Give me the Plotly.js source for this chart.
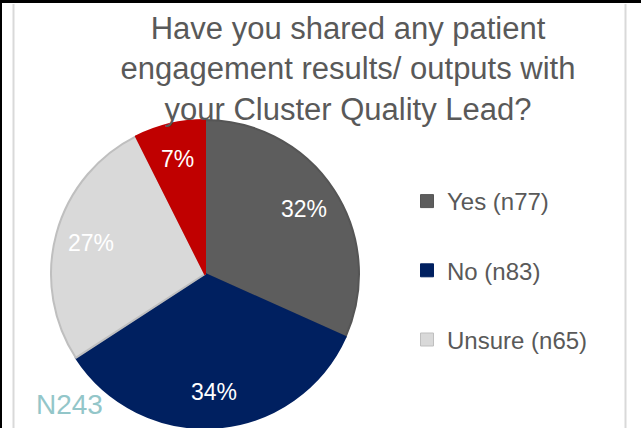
<!DOCTYPE html>
<html>
<head>
<meta charset="utf-8">
<script src="https://cdn.plot.ly/plotly-3.0.1.min.js"></script>
<style>html,body{margin:0;padding:0;background:#fff;}#chart{width:641px;height:428px;}</style>
</head>
<body>
<div id="chart"></div>
<script>
// Data
const categories = ['Yes (n77)', 'No (n83)', 'Unsure (n65)', 'Other (n18)'];
const counts = [77, 83, 65, 18];
const sliceColors = ['#5d5d5d', '#002060', '#d9d9d9', '#c00000'];
const edgeColors = ['#555555', '#002060', '#bfbfbf', '#c00000'];
const legendCategories = ['Yes (n77)', 'No (n83)', 'Unsure (n65)'];
const totalLabel = 'N243';
const titleText = 'Have you shared any patient<br>engagement results/ outputs with<br>your Cluster Quality Lead?';

const W = 641, H = 428;
const font = 'Liberation Sans, Arial, sans-serif';

// pie geometry (pixels)
const pieCx = 205, pieCy = 274, pieR = 154;
const labelFrac = 0.77;

const traces = [{
  type: 'pie',
  labels: categories,
  values: counts,
  sort: false,
  direction: 'clockwise',
  rotation: 0,
  marker: {colors: sliceColors, line: {color: edgeColors, width: 2}},
  textinfo: 'none',
  hoverinfo: 'none',
  showlegend: false,
  domain: {x: [(pieCx - pieR) / W, (pieCx + pieR) / W], y: [(H - pieCy - pieR) / H, (H - pieCy + pieR) / H]}
}];

legendCategories.forEach(function (name, i) {
  traces.push({
    type: 'scatter',
    mode: 'markers',
    x: [null], y: [null],
    name: name,
    legendgroup: 'g' + i,
    marker: {symbol: 'square', size: 13, color: sliceColors[i], line: {color: edgeColors[i], width: 1}},
    hoverinfo: 'none'
  });
});

// percentage labels derived from the data
const total = counts.reduce(function (a, b) { return a + b; }, 0);
const annotations = [];
let cum = 0;
counts.forEach(function (v) {
  const mid = (cum + v / 2) / total * 2 * Math.PI;
  cum += v;
  const px = pieCx + pieR * labelFrac * Math.sin(mid);
  const py = pieCy - pieR * labelFrac * Math.cos(mid);
  annotations.push({
    text: Math.round(v / total * 100) + '%',
    xref: 'paper', yref: 'paper',
    x: px / W, y: 1 - py / H,
    xanchor: 'center', yanchor: 'middle',
    showarrow: false,
    font: {family: font, size: 23, color: '#ffffff'}
  });
});
annotations.push({
  text: totalLabel,
  xref: 'paper', yref: 'paper',
  x: 34 / W, xanchor: 'left',
  y: 1 - 404 / H, yanchor: 'middle',
  showarrow: false,
  font: {family: font, size: 28, color: '#93c6c9'}
});

const layout = {
  width: W, height: H,
  margin: {l: 0, r: 0, t: 0, b: 0},
  paper_bgcolor: '#ffffff',
  plot_bgcolor: 'rgba(0,0,0,0)',
  xaxis: {visible: false},
  yaxis: {visible: false},
  title: {
    text: titleText,
    font: {family: font, size: 31, color: '#595959'},
    x: 348 / W, xanchor: 'center',
    y: 1 - 39 / H, yanchor: 'middle', yref: 'container', xref: 'container'
  },
  showlegend: true,
  legend: {
    x: 407 / W, xanchor: 'left',
    y: 1 - 179 / H, yanchor: 'top',
    font: {family: font, size: 24, color: '#595959'},
    tracegroupgap: 35,
    bgcolor: 'rgba(0,0,0,0)'
  },
  annotations: annotations,
  shapes: [
    {type: 'line', xref: 'paper', yref: 'paper', x0: 13.5 / W, x1: 13.5 / W, y0: 0, y1: 1 - 4 / H, line: {color: '#d9d9d9', width: 2}, layer: 'below'},
    {type: 'line', xref: 'paper', yref: 'paper', x0: 625.5 / W, x1: 625.5 / W, y0: 0, y1: 1 - 4 / H, line: {color: '#d9d9d9', width: 2}, layer: 'below'},
    {type: 'line', xref: 'paper', yref: 'paper', x0: 0, x1: 1, y0: 1 - 1.5 / H, y1: 1 - 1.5 / H, line: {color: '#000000', width: 3}},
    {type: 'line', xref: 'paper', yref: 'paper', x0: 1 / W, x1: 1 / W, y0: 0, y1: 1, line: {color: '#000000', width: 2}}
  ]
};

Plotly.newPlot('chart', traces, layout, {displayModeBar: false, staticPlot: true});
</script>
</body>
</html>
